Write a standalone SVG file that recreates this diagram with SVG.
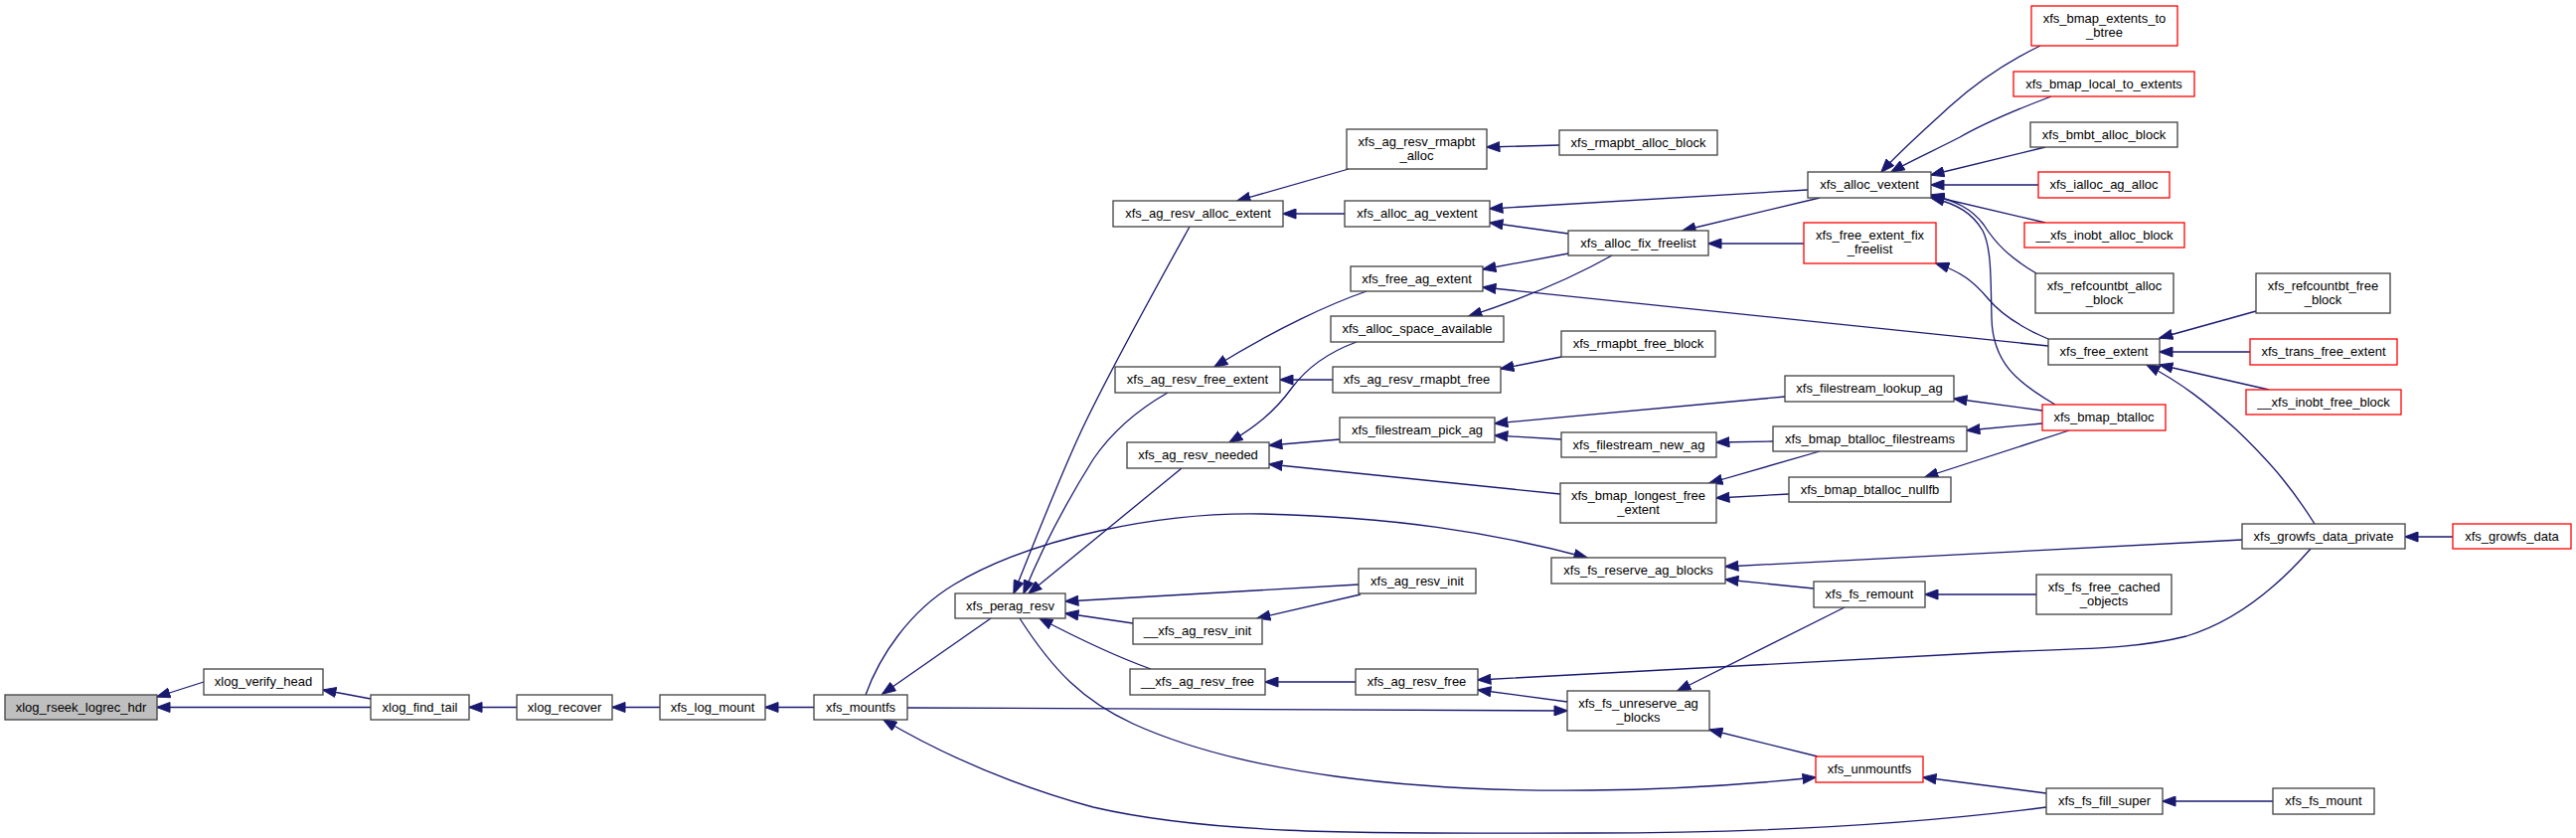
<svg xmlns="http://www.w3.org/2000/svg" width="2592" height="843" viewBox="0 0 2592 843">
<style>
.n rect{fill:#fff;stroke:#404040;stroke-width:1.3}
.r rect{stroke:#ff0000}
.g rect{fill:#bfbfbf}
text{font-family:"Liberation Sans",Arial,sans-serif;font-size:13px;text-anchor:middle;fill:#000}
#edges path{fill:none;stroke:#191970;stroke-width:1.3;marker-end:url(#ah)}
</style>
<defs>
<marker id="ah" markerWidth="15" markerHeight="11" refX="13.5" refY="5.5" orient="auto" markerUnits="userSpaceOnUse"><path d="M0.5,0.5 L14,5.5 L0.5,10.5 z" fill="#191970" stroke="#191970" stroke-width="1"/></marker>
</defs>
<rect width="2592" height="843" fill="#fff"/>
<g id="edges">
<path d="M205,686 L158,701"/>
<path d="M373,711.5 L158,711.5"/>
<path d="M373,703 L325,694"/>
<path d="M520,711.5 L472,711.5"/>
<path d="M664,711.5 L616,711.5"/>
<path d="M819,711.5 L770,711.5"/>
<path d="M997,622 L888,698"/>
<path d="M2059,812 C1950,826 1800,838 1600,838 C1400,838 1230,842 1100,812 C1020,790 950,760 889,724"/>
<path d="M871,699 C885,660 915,615 960,588 C1040,540 1170,515 1270,517 C1400,520 1500,535 1597,561"/>
<path d="M913,712 L1577,715"/>
<path d="M1026,622 C1060,675 1090,705 1140,728 C1250,778 1420,797 1600,795 C1700,794 1770,788 1827,782"/>
<path d="M1197,228 C1160,295 1110,385 1085,440 C1060,495 1035,560 1020,597"/>
<path d="M1175,395 C1140,415 1115,440 1100,462 C1070,510 1045,560 1030,597"/>
<path d="M1189,471 L1035,597"/>
<path d="M1367,588 L1072,605"/>
<path d="M1140,627 L1072,617"/>
<path d="M1158,673 C1130,663 1090,645 1046,622"/>
<path d="M1357,170 L1245,202"/>
<path d="M1353,215 L1291,215"/>
<path d="M1375,293 C1340,305 1285,330 1222,369"/>
<path d="M1341,382 L1288,382"/>
<path d="M1365,344 C1335,355 1315,370 1300,390 C1282,415 1262,430 1237,445"/>
<path d="M1348,442 L1277,448"/>
<path d="M1570,497 L1277,467"/>
<path d="M1369,598 L1265,622"/>
<path d="M1364,686 L1273,686"/>
<path d="M1569,146 L1496,148"/>
<path d="M1819,191 L1499,210"/>
<path d="M1578,235 L1499,224"/>
<path d="M1578,255 L1492,271"/>
<path d="M1622,257 C1590,275 1540,298 1478,318"/>
<path d="M2061,348 L1492,289"/>
<path d="M1571,359 L1510,371"/>
<path d="M1796,399 L1504,426"/>
<path d="M1571,442 L1504,438"/>
<path d="M1784,444 L1727,445"/>
<path d="M1831,454 L1720,486"/>
<path d="M1800,497 L1727,501"/>
<path d="M1831,199 L1693,232"/>
<path d="M1815,245 L1719,245"/>
<path d="M2055,413 L1966,401"/>
<path d="M2055,426 L1979,433"/>
<path d="M2082,433 L1937,480"/>
<path d="M2053,46 C2020,62 1990,82 1962,107 C1935,132 1912,152 1893,173"/>
<path d="M2064,97 C2035,108 2000,122 1972,138 C1945,152 1922,162 1903,173"/>
<path d="M2058,148 L1943,176"/>
<path d="M2051,186 L1943,186"/>
<path d="M2058,224 L1943,197"/>
<path d="M2049,275 C2022,259 2008,245 1996,226 C1984,210 1968,202 1943,196"/>
<path d="M2061,341 C2035,330 2015,318 2000,300 C1985,282 1972,273 1948,265"/>
<path d="M2068,407 C2030,385 2005,365 2004,320 C2003,280 2004,250 1995,232 C1985,215 1970,205 1943,199"/>
<path d="M2270,313 L2173,340"/>
<path d="M2264,354 L2173,354"/>
<path d="M2283,392 L2173,367"/>
<path d="M2329,527 C2310,497 2290,470 2250,432 C2220,405 2195,385 2160,367"/>
<path d="M2256,543 L1736,570"/>
<path d="M2325,552 C2290,592 2250,625 2200,640 C2140,655 2080,652 1990,657 L1487,684"/>
<path d="M1577,706 L1487,694"/>
<path d="M2468,540 L2420,540"/>
<path d="M1825,592 L1736,583"/>
<path d="M1856,611 L1688,695"/>
<path d="M2049,598 L1937,598"/>
<path d="M1829,761 L1720,734"/>
<path d="M2059,798 L1935,782"/>
<path d="M2287,806 L2176,806"/>
</g>
<g id="xlog_rseek_logrec_hdr" class="n g"><rect x="5" y="699" width="153" height="25"/><text x="81.5" y="716">xlog_rseek_logrec_hdr</text></g>
<g id="xlog_verify_head" class="n"><rect x="205" y="673" width="120" height="26"/><text x="265" y="690">xlog_verify_head</text></g>
<g id="xlog_find_tail" class="n"><rect x="373" y="699" width="99" height="25"/><text x="422.5" y="716">xlog_find_tail</text></g>
<g id="xlog_recover" class="n"><rect x="520" y="699" width="96" height="25"/><text x="568" y="716">xlog_recover</text></g>
<g id="xfs_log_mount" class="n"><rect x="664" y="699" width="106" height="25"/><text x="717" y="716">xfs_log_mount</text></g>
<g id="xfs_mountfs" class="n"><rect x="819" y="699" width="94" height="25"/><text x="866" y="716">xfs_mountfs</text></g>
<g id="xfs_perag_resv" class="n"><rect x="961" y="597" width="111" height="25"/><text x="1016.5" y="614">xfs_perag_resv</text></g>
<g id="xfs_ag_resv_alloc_extent" class="n"><rect x="1120" y="202" width="171" height="26"/><text x="1205.5" y="219">xfs_ag_resv_alloc_extent</text></g>
<g id="xfs_ag_resv_free_extent" class="n"><rect x="1122" y="369" width="166" height="26"/><text x="1205" y="386">xfs_ag_resv_free_extent</text></g>
<g id="xfs_ag_resv_needed" class="n"><rect x="1134" y="445" width="143" height="26"/><text x="1205.5" y="462">xfs_ag_resv_needed</text></g>
<g id="__xfs_ag_resv_init" class="n"><rect x="1140" y="622" width="130" height="26"/><text x="1205" y="639">__xfs_ag_resv_init</text></g>
<g id="__xfs_ag_resv_free" class="n"><rect x="1137" y="673" width="136" height="26"/><text x="1205" y="690">__xfs_ag_resv_free</text></g>
<g id="xfs_ag_resv_rmapbt_alloc" class="n"><rect x="1355" y="130" width="141" height="40"/><text x="1425.5" y="147">xfs_ag_resv_rmapbt</text><text x="1425.5" y="161">_alloc</text></g>
<g id="xfs_alloc_ag_vextent" class="n"><rect x="1353" y="202" width="146" height="26"/><text x="1426" y="219">xfs_alloc_ag_vextent</text></g>
<g id="xfs_free_ag_extent" class="n"><rect x="1359" y="268" width="133" height="25"/><text x="1425.5" y="285">xfs_free_ag_extent</text></g>
<g id="xfs_alloc_space_available" class="n"><rect x="1339" y="318" width="174" height="26"/><text x="1426" y="335">xfs_alloc_space_available</text></g>
<g id="xfs_ag_resv_rmapbt_free" class="n"><rect x="1341" y="369" width="169" height="26"/><text x="1425.5" y="386">xfs_ag_resv_rmapbt_free</text></g>
<g id="xfs_filestream_pick_ag" class="n"><rect x="1348" y="420" width="156" height="25"/><text x="1426" y="437">xfs_filestream_pick_ag</text></g>
<g id="xfs_ag_resv_init" class="n"><rect x="1367" y="572" width="118" height="25"/><text x="1426" y="589">xfs_ag_resv_init</text></g>
<g id="xfs_ag_resv_free" class="n"><rect x="1364" y="673" width="123" height="26"/><text x="1425.5" y="690">xfs_ag_resv_free</text></g>
<g id="xfs_rmapbt_alloc_block" class="n"><rect x="1569" y="131" width="159" height="25"/><text x="1648.5" y="148">xfs_rmapbt_alloc_block</text></g>
<g id="xfs_alloc_fix_freelist" class="n"><rect x="1578" y="232" width="141" height="25"/><text x="1648.5" y="249">xfs_alloc_fix_freelist</text></g>
<g id="xfs_rmapbt_free_block" class="n"><rect x="1571" y="333" width="155" height="26"/><text x="1648.5" y="350">xfs_rmapbt_free_block</text></g>
<g id="xfs_filestream_new_ag" class="n"><rect x="1571" y="435" width="156" height="25"/><text x="1649" y="452">xfs_filestream_new_ag</text></g>
<g id="xfs_bmap_longest_free_extent" class="n"><rect x="1570" y="486" width="157" height="40"/><text x="1648.5" y="503">xfs_bmap_longest_free</text><text x="1648.5" y="517">_extent</text></g>
<g id="xfs_fs_reserve_ag_blocks" class="n"><rect x="1561" y="561" width="175" height="26"/><text x="1648.5" y="578">xfs_fs_reserve_ag_blocks</text></g>
<g id="xfs_fs_unreserve_ag_blocks" class="n"><rect x="1577" y="695" width="143" height="40"/><text x="1648.5" y="712">xfs_fs_unreserve_ag</text><text x="1648.5" y="726">_blocks</text></g>
<g id="xfs_alloc_vextent" class="n"><rect x="1819" y="173" width="124" height="26"/><text x="1881" y="190">xfs_alloc_vextent</text></g>
<g id="xfs_free_extent_fix_freelist" class="n r"><rect x="1815" y="224" width="133" height="41"/><text x="1881.5" y="241">xfs_free_extent_fix</text><text x="1881.5" y="255">_freelist</text></g>
<g id="xfs_filestream_lookup_ag" class="n"><rect x="1796" y="378" width="170" height="26"/><text x="1881" y="395">xfs_filestream_lookup_ag</text></g>
<g id="xfs_bmap_btalloc_filestreams" class="n"><rect x="1784" y="429" width="195" height="25"/><text x="1881.5" y="446">xfs_bmap_btalloc_filestreams</text></g>
<g id="xfs_bmap_btalloc_nullfb" class="n"><rect x="1800" y="480" width="163" height="25"/><text x="1881.5" y="497">xfs_bmap_btalloc_nullfb</text></g>
<g id="xfs_fs_remount" class="n"><rect x="1825" y="585" width="112" height="26"/><text x="1881" y="602">xfs_fs_remount</text></g>
<g id="xfs_unmountfs" class="n r"><rect x="1827" y="761" width="108" height="26"/><text x="1881" y="778">xfs_unmountfs</text></g>
<g id="xfs_bmap_extents_to_btree" class="n r"><rect x="2044" y="6" width="147" height="40"/><text x="2117.5" y="23">xfs_bmap_extents_to</text><text x="2117.5" y="37">_btree</text></g>
<g id="xfs_bmap_local_to_extents" class="n r"><rect x="2026" y="72" width="182" height="25"/><text x="2117" y="89">xfs_bmap_local_to_extents</text></g>
<g id="xfs_bmbt_alloc_block" class="n"><rect x="2043" y="123" width="148" height="25"/><text x="2117" y="140">xfs_bmbt_alloc_block</text></g>
<g id="xfs_ialloc_ag_alloc" class="n r"><rect x="2051" y="173" width="132" height="26"/><text x="2117" y="190">xfs_ialloc_ag_alloc</text></g>
<g id="__xfs_inobt_alloc_block" class="n r"><rect x="2037" y="224" width="161" height="25"/><text x="2117.5" y="241">__xfs_inobt_alloc_block</text></g>
<g id="xfs_refcountbt_alloc_block" class="n"><rect x="2048" y="275" width="139" height="40"/><text x="2117.5" y="292">xfs_refcountbt_alloc</text><text x="2117.5" y="306">_block</text></g>
<g id="xfs_free_extent" class="n"><rect x="2061" y="341" width="112" height="26"/><text x="2117" y="358">xfs_free_extent</text></g>
<g id="xfs_bmap_btalloc" class="n r"><rect x="2055" y="407" width="124" height="26"/><text x="2117" y="424">xfs_bmap_btalloc</text></g>
<g id="xfs_fs_free_cached_objects" class="n"><rect x="2049" y="578" width="136" height="40"/><text x="2117" y="595">xfs_fs_free_cached</text><text x="2117" y="609">_objects</text></g>
<g id="xfs_fs_fill_super" class="n"><rect x="2059" y="793" width="117" height="26"/><text x="2117.5" y="810">xfs_fs_fill_super</text></g>
<g id="xfs_refcountbt_free_block" class="n"><rect x="2270" y="275" width="135" height="40"/><text x="2337.5" y="292">xfs_refcountbt_free</text><text x="2337.5" y="306">_block</text></g>
<g id="xfs_trans_free_extent" class="n r"><rect x="2264" y="341" width="148" height="26"/><text x="2338" y="358">xfs_trans_free_extent</text></g>
<g id="__xfs_inobt_free_block" class="n r"><rect x="2260" y="392" width="156" height="25"/><text x="2338" y="409">__xfs_inobt_free_block</text></g>
<g id="xfs_growfs_data_private" class="n"><rect x="2256" y="527" width="164" height="25"/><text x="2338" y="544">xfs_growfs_data_private</text></g>
<g id="xfs_fs_mount" class="n"><rect x="2287" y="793" width="102" height="26"/><text x="2338" y="810">xfs_fs_mount</text></g>
<g id="xfs_growfs_data" class="n r"><rect x="2468" y="527" width="119" height="25"/><text x="2527.5" y="544">xfs_growfs_data</text></g>
</svg>
